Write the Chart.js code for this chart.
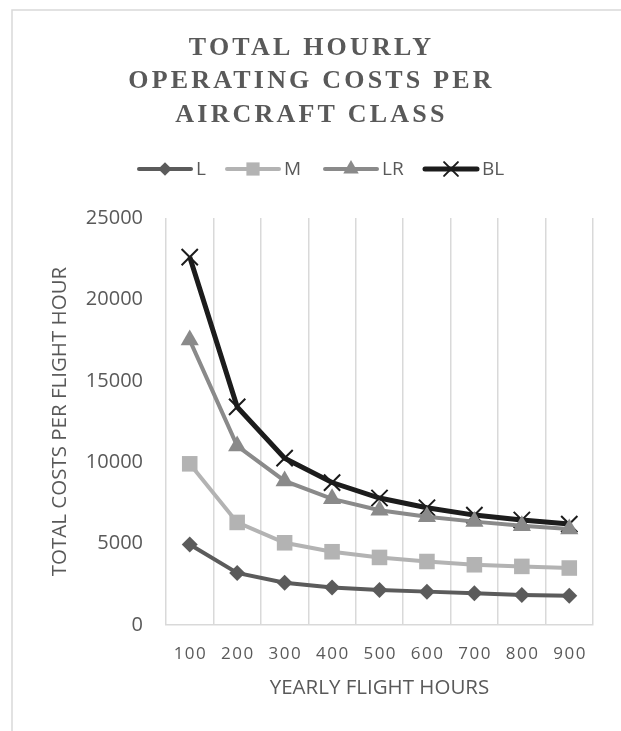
<!DOCTYPE html>
<html lang="en">
<head>
    <meta charset="UTF-8">
    <title>Total Hourly Operating Costs per Aircraft Class</title>
    <script src="https://cdn.jsdelivr.net/npm/chart.js"></script>
    <style>
        body { margin: 0; background: #fff; }
        canvas { display: block; }
    </style>
</head>
<body>
    <canvas id="costChart" width="621" height="731"></canvas>

    <script>
        // Chart data
        const flightHours = ['100', '200', '300', '400', '500', '600', '700', '800', '900'];
        const costL  = [4950, 3200, 2600, 2300, 2150, 2050, 1950, 1850, 1800];
        const costM  = [9900, 6300, 5050, 4500, 4150, 3900, 3700, 3600, 3500];
        const costLR = [17500, 11000, 8850, 7750, 7050, 6650, 6350, 6100, 5900];
        const costBL = [22600, 13400, 10250, 8750, 7800, 7200, 6750, 6450, 6200];
        const yTicks = [0, 5000, 10000, 15000, 20000, 25000];
        const titleLines = ['TOTAL HOURLY', 'OPERATING COSTS PER', 'AIRCRAFT CLASS'];

        const textGray = '#595959';
        const gridGray = '#d9d9d9';

        function series(label, data, color, style, radius, width) {
            return {
                label: label,
                data: data,
                borderColor: color,
                backgroundColor: color,
                borderWidth: width,
                pointStyle: style,
                pointRadius: radius,
                pointHoverRadius: radius,
                pointBackgroundColor: color,
                pointBorderColor: color,
                pointBorderWidth: style === 'crossRot' ? 2 : 0,
                tension: 0
            };
        }

        // title, legend, frame and spaced x labels drawn by hand
        const decorations = {
            id: 'decorations',
            beforeDraw(chart) {
                const ctx = chart.ctx;
                ctx.save();
                ctx.fillStyle = '#fff';
                ctx.fillRect(0, 0, chart.width, chart.height);
                ctx.strokeStyle = gridGray;
                ctx.lineWidth = 1.5;
                ctx.beginPath();
                ctx.moveTo(12, chart.height);
                ctx.lineTo(12, 10);
                ctx.lineTo(chart.width, 10);
                ctx.stroke();
                ctx.restore();
            },
            afterDraw(chart) {
                const ctx = chart.ctx;
                ctx.save();

                // title
                ctx.fillStyle = textGray;
                ctx.textAlign = 'center';
                ctx.textBaseline = 'middle';
                ctx.font = 'bold 26px "Liberation Serif"';
                ctx.letterSpacing = '3.2px';
                titleLines.forEach((line, i) => {
                    ctx.fillText(line, 311.5, 48 + i * 33.5);
                });

                // x tick labels
                const xScale = chart.scales.x;
                ctx.font = '17px "Open Sans"';
                ctx.letterSpacing = '1.5px';
                flightHours.forEach((h, i) => {
                    ctx.fillText(h, xScale.getPixelForValue(i) + 0.75, 654);
                });

                // legend
                ctx.letterSpacing = '0px';
                ctx.font = '19px "Open Sans"';
                ctx.textAlign = 'left';
                const lineLen = 56, gap = 3, ly = 169;
                const starts = [137, 225, 323, 423];
                chart.data.datasets.forEach((ds, i) => {
                    const x = starts[i];
                    ctx.strokeStyle = ds.borderColor;
                    ctx.lineWidth = ds.borderWidth;
                    ctx.lineCap = 'round';
                    ctx.beginPath();
                    ctx.moveTo(x + 2, ly);
                    ctx.lineTo(x + lineLen - 2, ly);
                    ctx.stroke();
                    ctx.fillStyle = ds.pointBackgroundColor;
                    ctx.strokeStyle = ds.pointBorderColor;
                    ctx.lineWidth = ds.pointBorderWidth || 1;
                    Chart.helpers.drawPoint(ctx, {
                        pointStyle: ds.pointStyle,
                        radius: ds.pointRadius * 0.85,
                        borderWidth: ds.pointBorderWidth,
                        rotation: 0
                    }, x + lineLen / 2, ly);
                    ctx.fillStyle = textGray;
                    ctx.fillText(ds.label, x + lineLen + gap, ly + 1);
                });
                ctx.restore();
            }
        };

        new Chart(document.getElementById('costChart'), {
            type: 'line',
            data: {
                labels: flightHours,
                datasets: [
                    series('L', costL, '#5b5b5b', 'rectRot', 8, 4),
                    series('M', costM, '#b3b3b3', 'rect', 11, 4),
                    series('LR', costLR, '#8a8a8a', 'triangle', 10.5, 4),
                    series('BL', costBL, '#1c1c1c', 'crossRot', 11.5, 5)
                ]
            },
            options: {
                responsive: false,
                animation: false,
                layout: { padding: { top: 218, right: 28, bottom: 0, left: 0 } },
                plugins: {
                    legend: { display: false },
                    title: { display: false },
                    tooltip: { enabled: false }
                },
                scales: {
                    x: {
                        offset: true,
                        grid: { offset: true, color: gridGray, lineWidth: 1.5, drawTicks: false },
                        border: { display: true, color: gridGray, width: 1.5 },
                        ticks: { color: 'rgba(0,0,0,0)', font: { family: 'Open Sans', size: 16 } },
                        title: {
                            display: true,
                            text: 'YEARLY FLIGHT HOURS',
                            color: textGray,
                            font: { family: 'Open Sans', size: 20.5 },
                            padding: { top: 0, bottom: 31 }
                        },
                        afterFit(scale) { scale.height = 106; }
                    },
                    y: {
                        min: 0,
                        max: 25000,
                        afterBuildTicks(scale) { scale.ticks = yTicks.map(v => ({ value: v })); },
                        grid: { display: false, drawTicks: false },
                        border: { display: false },
                        ticks: {
                            color: textGray,
                            padding: 23,
                            font: { family: 'Open Sans', size: 20 },
                            callback: v => String(v)
                        },
                        title: {
                            display: true,
                            text: 'TOTAL COSTS PER FLIGHT HOUR',
                            color: textGray,
                            font: { family: 'Open Sans', size: 20.5 },
                            padding: { top: 48, bottom: 0 }
                        },
                        afterFit(scale) { scale.width = 166; }
                    }
                }
            },
            plugins: [decorations]
        });
    </script>
</body>
</html>
